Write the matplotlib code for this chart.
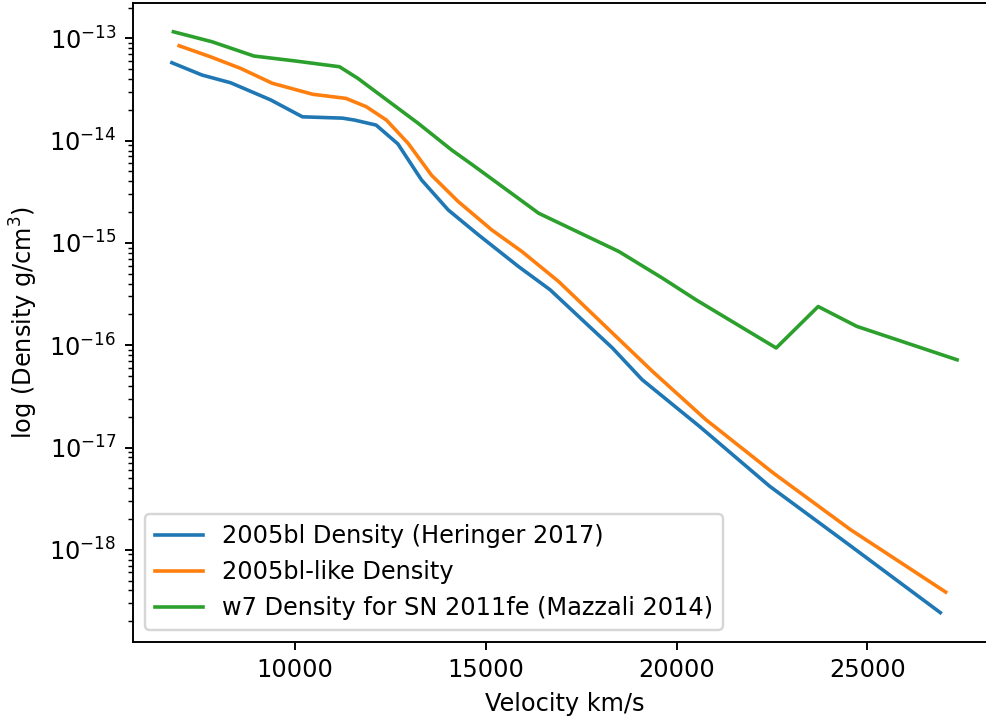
import numpy as np
import matplotlib
matplotlib.use("Agg")
import matplotlib.pyplot as plt

# velocity (km/s) and density (g/cm^3) per model
v_2005bl = [6780, 7570, 8320, 9370, 10200, 11250, 11560, 12130, 12700, 13320,
            14020, 14810, 15860, 16690, 17530, 18320, 19100, 20600, 22440,
            24450, 26910]
rho_2005bl = [5.78e-14, 4.38e-14, 3.68e-14, 2.50e-14, 1.71e-14, 1.66e-14,
              1.59e-14, 1.42e-14, 9.3e-15, 4.13e-15, 2.10e-15, 1.20e-15,
              5.88e-16, 3.48e-16, 1.77e-16, 9.4e-17, 4.6e-17, 1.61e-17,
              4.18e-18, 1.17e-18, 2.43e-19]

v_like = [6970, 7790, 8580, 9410, 10470, 11340, 11870, 12400, 12970, 13580,
          14280, 15160, 15950, 16910, 19370, 20770, 22530, 24550, 27050]
rho_like = [8.47e-14, 6.61e-14, 5.09e-14, 3.64e-14, 2.84e-14, 2.59e-14,
            2.15e-14, 1.59e-14, 9.4e-15, 4.6e-15, 2.54e-15, 1.34e-15,
            8.24e-16, 4.2e-16, 5.55e-17, 1.87e-17, 5.65e-18, 1.58e-18,
            3.86e-19]

v_w7 = [6820, 7830, 8930, 10030, 11170, 11650, 13230, 14110, 14720, 16390,
        18490, 19630, 20510, 22610, 23710, 24720, 27350]
rho_w7 = [1.16e-13, 9.27e-14, 6.72e-14, 6.0e-14, 5.28e-14, 4.07e-14,
          1.48e-14, 8.1e-15, 5.57e-15, 1.95e-15, 8.24e-16, 4.53e-16,
          2.78e-16, 9.4e-17, 2.39e-16, 1.53e-16, 7.2e-17]

dpi = 172.8
fig = plt.figure(figsize=(986 / dpi, 718 / dpi), dpi=dpi)
ax = fig.add_axes([0.1352, 0.1063, 0.875, 0.8899])

ax.plot(v_2005bl, rho_2005bl, label="2005bl Density (Heringer 2017)")
ax.plot(v_like, rho_like, label="2005bl-like Density")
ax.plot(v_w7, rho_w7, label="w7 Density for SN 2011fe (Mazzali 2014)")

ax.set_yscale("log")
ax.set_xlim(5770, 28370)
ax.set_xlabel("Velocity km/s")
ax.set_ylabel("log (Density g/cm$^3$)")
ax.legend(loc="lower left")

fig.savefig("out.png", dpi=dpi)
